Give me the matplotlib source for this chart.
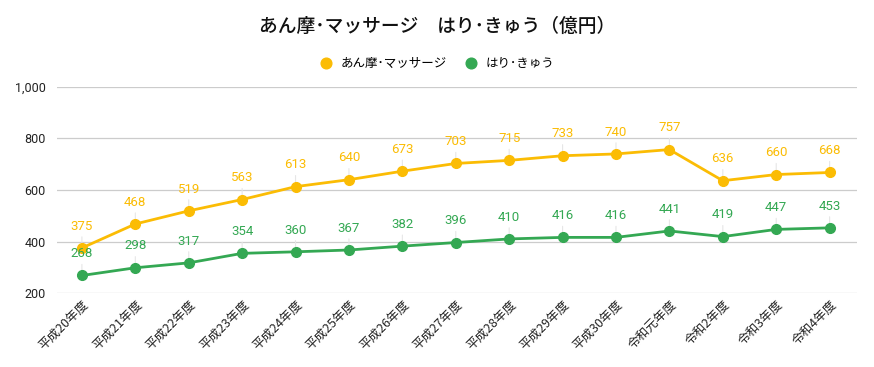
import matplotlib.pyplot as plt
import numpy as np

plt.rcParams['font.family'] = ['Noto Sans CJK JP', 'DejaVu Sans']

years = ['平成20年度', '平成21年度', '平成22年度', '平成23年度', '平成24年度',
         '平成25年度', '平成26年度', '平成27年度', '平成28年度', '平成29年度',
         '平成30年度', '令和元年度', '令和2年度', '令和3年度', '令和4年度']
anma = [375, 468, 519, 563, 613, 640, 673, 703, 715, 733, 740, 757, 636, 660, 668]
hari = [268, 298, 317, 354, 360, 367, 382, 396, 410, 416, 416, 441, 419, 447, 453]

yellow = '#fbbc04'
green = '#34a853'

fig = plt.figure(figsize=(8.74, 3.67), dpi=100)
ax = fig.add_axes([0.065, 0.2016, 0.916, 0.5614])
x = np.arange(len(years))

for vals, col, name in [(anma, yellow, 'あん摩･マッサージ'), (hari, green, 'はり･きゅう')]:
    ax.plot(x, vals, color=col, lw=2, marker='o', ms=7, label=name, zorder=3)
    for xi, v in zip(x, vals):
        # thin leader line from point to label
        ax.annotate('', xy=(xi, v), xytext=(0, 10), textcoords='offset points',
                    arrowprops=dict(arrowstyle='-', color='#e6e6e6', lw=0.8), zorder=1)
        ax.annotate(str(v), xy=(xi, v), xytext=(0, 11), textcoords='offset points',
                    ha='center', va='bottom', color=col, fontsize=9.5,
                    family=['Roboto', 'DejaVu Sans'])

ax.set_xlim(-0.47, 14.52)
ax.set_ylim(200, 1000)
ax.set_yticks([200, 400, 600, 800, 1000])
ax.set_yticklabels(['200', '400', '600', '800', '1,000'], family=['Roboto', 'DejaVu Sans'])
ax.set_xticks(x)
ax.set_xticklabels(years, rotation=45, ha='right', rotation_mode='anchor')
ax.tick_params(axis='both', length=0, labelsize=9, colors='#222222')
ax.tick_params(axis='y', pad=8)
ax.grid(axis='y', color='#cccccc', lw=0.9)
ax.set_axisbelow(True)
for s in ax.spines.values():
    s.set_visible(False)

fig.suptitle('あん摩･マッサージ　はり･きゅう（億円）', y=0.955, fontsize=13.5,
             color='#111111', fontweight='medium')
fig.legend(loc='upper center', bbox_to_anchor=(0.5, 0.875), ncol=2, frameon=False,
           fontsize=9, handlelength=1, markerscale=1.1, columnspacing=1.5, handletextpad=0.6)
for h in fig.legends[0].get_lines():
    h.set_linestyle('none')

fig.savefig('out.png', dpi=100)
